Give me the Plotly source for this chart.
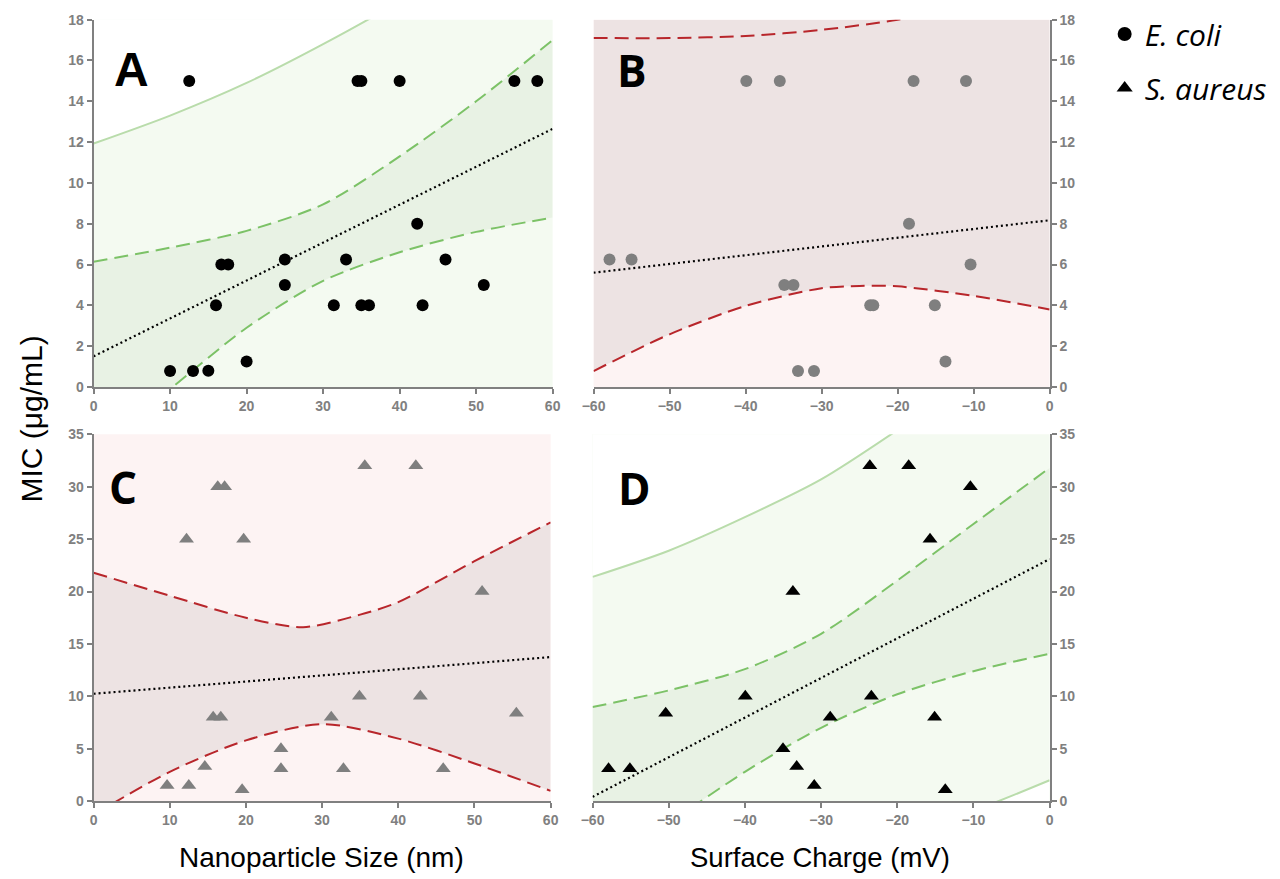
import plotly.graph_objects as go

W, H = 1280, 879

# ---------------- data ----------------
# Panel A: E. coli MIC vs nanoparticle size
size_ec = [12.5, 34.5, 35.0, 40.0, 55.0, 58.0, 42.3, 16.7, 17.6, 25.0, 33.0, 46.0,
           25.0, 51.0, 16.0, 31.4, 35.0, 36.0, 43.0, 20.0, 10.0, 13.0, 15.0]
mic_ec_size = [15, 15, 15, 15, 15, 15, 8, 6, 6, 6.25, 6.25, 6.25,
               5, 5, 4, 4, 4, 4, 4, 1.25, 0.78, 0.78, 0.8]
a_trend_x = [0, 60]
a_trend_y = [1.5, 12.65]
a_ci_x = [0, 10, 20, 30, 40, 50, 60]
a_ci_up = [6.14, 6.83, 7.65, 8.95, 11.3, 14.0, 17.0]
a_ci_lo = [-3.1, -0.1, 2.9, 5.2, 6.6, 7.6, 8.3]
a_pi_x = [0, 10, 20, 30, 40, 50]
a_pi_up = [11.93, 13.3, 14.9, 16.8, 18.9, 21.3]

# Panel B: E. coli MIC vs surface charge
charge_ec = [-39.9, -35.5, -17.9, -11.0, -18.5, -57.9, -55.0, -10.4, -34.9, -33.7,
             -23.6, -23.2, -15.1, -13.7, -33.1, -31.0]
mic_ec_charge = [15, 15, 15, 15, 8, 6.25, 6.25, 6, 5, 5, 4, 4, 4, 1.25, 0.78, 0.78]
b_trend_x = [-60, 0]
b_trend_y = [5.6, 8.17]
b_up_x = [-60, -50, -40, -30, -20, -10]
b_up_y = [17.1, 17.1, 17.2, 17.5, 18.0, 18.8]
b_lo_x = [-60, -50, -40, -30, -25, -20, -10, 0]
b_lo_y = [0.78, 2.58, 3.97, 4.84, 4.95, 4.93, 4.46, 3.8]

# Panel C: S. aureus MIC vs nanoparticle size
size_sa = [35.6, 42.3, 16.3, 17.2, 12.2, 19.7, 51.0, 34.9, 42.9, 55.5, 15.7, 16.7,
           31.2, 24.6, 14.6, 24.6, 32.8, 45.9, 9.65, 12.5, 19.5]
mic_sa_size = [32, 32, 30, 30, 25, 25, 20, 10, 10, 8.4, 8, 8,
               8, 5, 3.3, 3.1, 3.1, 3.1, 1.5, 1.5, 1.1]
c_trend_x = [0, 60]
c_trend_y = [10.25, 13.75]
c_up_x = [0, 10, 20, 27.5, 35, 40, 50, 60]
c_up_y = [21.8, 19.6, 17.5, 16.6, 17.8, 19.0, 22.9, 26.6]
c_lo_x = [0, 10, 20, 30, 40, 50, 60]
c_lo_y = [-1.3, 2.8, 5.8, 7.35, 5.97, 3.6, 0.98]

# Panel D: S. aureus MIC vs surface charge
charge_sa = [-23.6, -18.5, -10.4, -15.7, -33.7, -39.95, -23.4, -50.4, -28.8, -15.1,
             -35.0, -33.2, -57.9, -55.1, -30.9, -13.7]
mic_sa_charge = [32, 32, 30, 25, 20, 10, 10, 8.4, 8, 8, 5, 3.3, 3.1, 3.1, 1.5, 1.1]
d_trend_x = [-60, 0]
d_trend_y = [0.41, 23.1]
d_ci_x = [-60, -50, -40, -30, -20, -10, 0]
d_ci_up = [8.98, 10.57, 12.6, 15.97, 21.05, 26.45, 31.8]
d_ci_lo = [-8.2, -2.2, 2.8, 7.0, 10.2, 12.4, 14.07]
d_pi_up_x = [-60, -50, -40, -30, -20]
d_pi_up_y = [21.4, 23.9, 27.1, 30.7, 35.4]
d_pi_lo_x = [-10, -5, 0]
d_pi_lo_y = [-0.95, 0.5, 2.0]

x_size_ticks = [0, 10, 20, 30, 40, 50, 60]
x_charge_ticks = [-60, -50, -40, -30, -20, -10, 0]
y_ec_ticks = [0, 2, 4, 6, 8, 10, 12, 14, 16, 18]
y_sa_ticks = [0, 5, 10, 15, 20, 25, 30, 35]

# ---------------- styles ----------------
GREEN_BG = "#f4faf1"
GREEN_CI = "#e8f2e4"
GREEN_DASH = "#7cc267"
GREEN_PI = "#b9dcab"
PINK_BG = "#fdf3f3"
PINK_CI = "#ede3e3"
RED_DASH = "#b8262b"
AX = "#808080"
DASH = "14px,7px"
DOT = "2px,3px"

fig = go.Figure()
SPL = dict(shape="spline", smoothing=0.8)

def line(x, y, color, dash, width, xa, ya):
    fig.add_trace(go.Scatter(x=x, y=y, mode="lines", xaxis=xa, yaxis=ya,
                             line=dict(color=color, dash=dash, width=width, **SPL),
                             hoverinfo="skip", showlegend=False))

def ghost(x, y, xa, ya, fill=None, color=None, shape="spline"):
    fig.add_trace(go.Scatter(x=x, y=y, mode="lines", xaxis=xa, yaxis=ya,
                             line=dict(width=0, color="rgba(0,0,0,0)", shape=shape, smoothing=0.8),
                             fill=fill, fillcolor=color,
                             hoverinfo="skip", showlegend=False))

def band(ux, uy, lx, ly, color, xa, ya):
    ghost(lx, ly, xa, ya)
    ghost(ux, uy, xa, ya, fill="tonexty", color=color)

def above(x, y, top, color, xa, ya):
    t = max(top, max(y))
    ghost(x, y, xa, ya)
    ghost([x[0], x[-1]], [t, t], xa, ya, fill="tonexty", color=color, shape="linear")

def below(x, y, bottom, color, xa, ya):
    b = min(bottom, min(y))
    ghost(x, y, xa, ya)
    ghost([x[0], x[-1]], [b, b], xa, ya, fill="tonexty", color=color, shape="linear")

def base(color, xa, ya):
    fig.add_shape(type="rect", xref=f"{xa} domain", yref=f"{ya} domain",
                  x0=0, x1=1, y0=0, y1=1, fillcolor=color, line_width=0, layer="below")

# ---- Panel A ----
base(GREEN_BG, "x", "y")
above(a_pi_x, a_pi_up, 18, "white", "x", "y")
band(a_ci_x, a_ci_up, a_ci_x, a_ci_lo, GREEN_CI, "x", "y")
line(a_pi_x, a_pi_up, GREEN_PI, "solid", 2, "x", "y")
line(a_ci_x, a_ci_up, GREEN_DASH, DASH, 2, "x", "y")
line(a_ci_x, a_ci_lo, GREEN_DASH, DASH, 2, "x", "y")
line(a_trend_x, a_trend_y, "black", DOT, 2.2, "x", "y")
fig.add_trace(go.Scatter(x=size_ec, y=mic_ec_size, mode="markers", xaxis="x", yaxis="y",
                         marker=dict(symbol="circle", size=12, color="black"),
                         hoverinfo="x+y", showlegend=False))

# ---- Panel B ----
base(PINK_BG, "x2", "y2")
above(b_lo_x, b_lo_y, 18, PINK_CI, "x2", "y2")
line(b_up_x, b_up_y, RED_DASH, DASH, 2, "x2", "y2")
line(b_lo_x, b_lo_y, RED_DASH, DASH, 2, "x2", "y2")
line(b_trend_x, b_trend_y, "black", DOT, 2.2, "x2", "y2")
fig.add_trace(go.Scatter(x=charge_ec, y=mic_ec_charge, mode="markers", xaxis="x2", yaxis="y2",
                         marker=dict(symbol="circle", size=12, color="#7f7f7f"),
                         hoverinfo="x+y", showlegend=False))

# ---- Panel C ----
base(PINK_BG, "x3", "y3")
band(c_up_x, c_up_y, c_lo_x, c_lo_y, PINK_CI, "x3", "y3")
line(c_up_x, c_up_y, RED_DASH, DASH, 2, "x3", "y3")
line(c_lo_x, c_lo_y, RED_DASH, DASH, 2, "x3", "y3")
line(c_trend_x, c_trend_y, "black", DOT, 2.2, "x3", "y3")
fig.add_trace(go.Scatter(x=size_sa, y=mic_sa_size, mode="markers", xaxis="x3", yaxis="y3",
                         marker=dict(symbol="triangle-up", size=13, color="#7f7f7f"),
                         hoverinfo="x+y", showlegend=False))

# ---- Panel D ----
base(GREEN_BG, "x4", "y4")
above(d_pi_up_x, d_pi_up_y, 35, "white", "x4", "y4")
below(d_pi_lo_x, d_pi_lo_y, 0, "white", "x4", "y4")
band(d_ci_x, d_ci_up, d_ci_x, d_ci_lo, GREEN_CI, "x4", "y4")
line(d_pi_up_x, d_pi_up_y, GREEN_PI, "solid", 2, "x4", "y4")
line(d_pi_lo_x, d_pi_lo_y, GREEN_PI, "solid", 2, "x4", "y4")
line(d_ci_x, d_ci_up, GREEN_DASH, DASH, 2, "x4", "y4")
line(d_ci_x, d_ci_lo, GREEN_DASH, DASH, 2, "x4", "y4")
line(d_trend_x, d_trend_y, "black", DOT, 2.2, "x4", "y4")
fig.add_trace(go.Scatter(x=charge_sa, y=mic_sa_charge, mode="markers", xaxis="x4", yaxis="y4",
                         marker=dict(symbol="triangle-up", size=13, color="black"),
                         hoverinfo="x+y", showlegend=False))

# ---- legend entries ----
fig.add_trace(go.Scatter(x=[None], y=[None], mode="markers", name="<i>E. coli</i>",
                         marker=dict(symbol="circle", size=14, color="black"),
                         legendgroup="ec", showlegend=True))
fig.add_trace(go.Scatter(x=[None], y=[None], mode="markers", name="<i>S. aureus</i>",
                         marker=dict(symbol="triangle-up", size=14, color="black"),
                         legendgroup="sa", showlegend=True))

# page-pixel -> layout-pixel calibration (the photographed page is slightly offset/scaled)
def X(p):
    return (p - 10.25) / 0.9864

def Y(p):
    return (p - 6.3) / 0.9837

def px(x0, x1):
    return [X(x0) / W, X(x1) / W]

def py(top, bottom):
    return [1 - Y(bottom) / H, 1 - Y(top) / H]

tickfont = dict(family="Liberation Sans, Arial", size=14, color=AX, weight="bold")
axcommon = dict(showline=True, linecolor=AX, linewidth=2, ticks="outside", ticklen=5,
                tickwidth=1.5, tickcolor=AX, showgrid=False, zeroline=False,
                tickfont=tickfont, fixedrange=True)

fig.update_layout(
    width=W, height=H, margin=dict(l=0, r=0, t=0, b=0),
    paper_bgcolor="white", plot_bgcolor="rgba(0,0,0,0)",
    xaxis=dict(domain=px(92, 552), range=[0, 60], tickvals=x_size_ticks, anchor="y", **axcommon),
    yaxis=dict(domain=py(18, 386), range=[0, 18], tickvals=y_ec_ticks, anchor="x", **axcommon),
    xaxis2=dict(domain=px(593, 1050), range=[-60, 0], tickvals=x_charge_ticks, anchor="y2", **axcommon),
    yaxis2=dict(domain=py(18, 386), range=[0, 18], tickvals=y_ec_ticks, anchor="x2", side="right", **axcommon),
    xaxis3=dict(domain=px(92, 550), range=[0, 60], tickvals=x_size_ticks, anchor="y3", **axcommon),
    yaxis3=dict(domain=py(433.5, 801), range=[0, 35], tickvals=y_sa_ticks, anchor="x3", **axcommon),
    xaxis4=dict(domain=px(592, 1050), range=[-60, 0], tickvals=x_charge_ticks, anchor="y4", **axcommon),
    yaxis4=dict(domain=py(433.5, 801), range=[0, 35], tickvals=y_sa_ticks, anchor="x4", side="right", **axcommon),
    legend=dict(x=1110 / W, y=1 - 0 / H, xanchor="left", yanchor="top",
                font=dict(family="Open Sans", size=30, color="black"),
                tracegroupgap=12, bgcolor="rgba(0,0,0,0)", itemsizing="trace"),
    showlegend=True,
)

def note(text, x, y, size, family, weight="normal", angle=0):
    fig.add_annotation(text=text, x=X(x) / W, y=1 - Y(y) / H, xref="paper", yref="paper",
                       showarrow=False, textangle=angle, xanchor="center", yanchor="middle",
                       font=dict(family=family, size=size, color="black", weight=weight))

note("A", 130, 68, 48, "Liberation Sans, Arial", "bold")
note("B", 632, 68, 44, "Open Sans", "bold")
note("C", 121, 486, 44, "Open Sans", "bold")
note("D", 634, 487, 44, "Open Sans", "bold")
note("MIC (μg/mL)", 30, 418, 30, "Liberation Sans, Arial", angle=-90)
note("Nanoparticle Size (nm)", 320, 857, 28, "Liberation Sans, Arial")
note("Surface Charge (mV)", 820, 857, 27.5, "Liberation Sans, Arial")

fig.write_html(
    "out.html",
    config={"displayModeBar": False},
    post_script="document.body.style.margin='0';document.documentElement.style.overflow='hidden';",
)
